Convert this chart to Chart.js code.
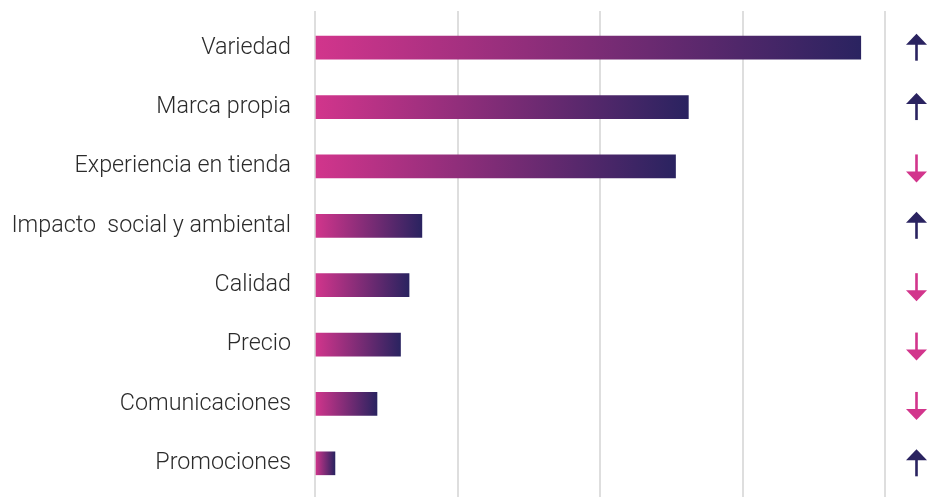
<!DOCTYPE html>
<html>
<head>
<meta charset="utf-8">
<script src="https://cdn.jsdelivr.net/npm/chart.js@4.4.1/dist/chart.umd.min.js"></script>
<style>
  html, body { margin: 0; padding: 0; background: #ffffff; }
  #wrap { width: 936px; height: 497px; position: relative; }
</style>
</head>
<body>
<div id="wrap"><canvas id="chart"></canvas></div>
<script>
// Attribute ranking: bar length per attribute and its trend direction
const categories = [
  'Variedad',
  'Marca propia',
  'Experiencia en tienda',
  'Impacto  social y ambiental',
  'Calidad',
  'Precio',
  'Comunicaciones',
  'Promociones'
];
const values = [38.3, 26.2, 25.3, 7.5, 6.6, 6.0, 4.35, 1.4];
const trends = ['up', 'up', 'down', 'up', 'down', 'down', 'down', 'up'];
const xTicks = [0, 10, 20, 30, 40];

const PINK = '#d2358c';
const NAVY = '#2a2360';
const GRID = '#dedede';

// Each bar fades from pink at zero to navy at its own end
function barGradient(ctx) {
  const chart = ctx.chart;
  const xs = chart.scales.x;
  if (!xs || !chart.chartArea) return PINK;
  const x0 = xs.getPixelForValue(0);
  const x1 = xs.getPixelForValue(values[ctx.dataIndex]);
  const g = chart.ctx.createLinearGradient(x0, 0, Math.max(x1, x0 + 1), 0);
  g.addColorStop(0, PINK);
  g.addColorStop(1, NAVY);
  return g;
}

// Up / down arrows in the right margin, one per category row
const trendArrows = {
  id: 'trendArrows',
  afterDatasetsDraw(chart) {
    const { ctx, chartArea, scales } = chart;
    const ys = scales.y;
    const cx = chartArea.right + 31.5;
    const halfHead = 10.5, headLen = 11, stem = 2.6;
    trends.forEach((t, i) => {
      const cy = ys.getPixelForValue(i);
      const color = t === 'up' ? NAVY : PINK;
      ctx.save();
      ctx.fillStyle = color;
      if (t === 'up') {
        const tip = cy - 14, base = tip + headLen, end = cy + 13;
        ctx.fillRect(cx - stem / 2, base - 1, stem, end - base + 1);
        ctx.beginPath();
        ctx.moveTo(cx, tip);
        ctx.lineTo(cx + halfHead, base);
        ctx.lineTo(cx - halfHead, base);
        ctx.closePath();
        ctx.fill();
      } else {
        const start = cy - 12, tip = cy + 16, base = tip - headLen;
        ctx.fillRect(cx - stem / 2, start, stem, base - start + 1);
        ctx.beginPath();
        ctx.moveTo(cx, tip);
        ctx.lineTo(cx + halfHead, base);
        ctx.lineTo(cx - halfHead, base);
        ctx.closePath();
        ctx.fill();
      }
      ctx.restore();
    });
  }
};

function draw() {
  new Chart(document.getElementById('chart'), {
    type: 'bar',
    data: {
      labels: categories,
      datasets: [{
        data: values,
        backgroundColor: barGradient,
        borderWidth: 0,
        barThickness: 23
      }]
    },
    options: {
      indexAxis: 'y',
      responsive: true,
      maintainAspectRatio: false,
      animation: false,
      layout: { padding: { top: 11, right: 51, bottom: 0, left: 0 } },
      plugins: {
        legend: { display: false },
        tooltip: { enabled: false }
      },
      scales: {
        x: {
          type: 'linear',
          position: 'bottom',
          min: xTicks[0],
          max: xTicks[xTicks.length - 1],
          afterBuildTicks(scale) { scale.ticks = xTicks.map(v => ({ value: v })); },
          ticks: { display: false },
          grid: { color: GRID, lineWidth: 2, drawTicks: true, tickLength: 4 },
          border: { display: false }
        },
        xTop: {
          type: 'linear',
          position: 'top',
          min: xTicks[0],
          max: xTicks[xTicks.length - 1],
          afterBuildTicks(scale) { scale.ticks = xTicks.map(v => ({ value: v })); },
          ticks: { display: false },
          grid: { color: GRID, lineWidth: 2, drawOnChartArea: false, drawTicks: true, tickLength: 7 },
          border: { display: false }
        },
        y: {
          afterFit(scale) {
            scale.width = 315;
            scale.paddingTop = 0;
            scale.paddingBottom = 0;
          },
          grid: { display: false },
          border: { display: false },
          ticks: {
            padding: 16,
            color: '#2b2b2b',
            font: { family: 'Roboto', weight: '300', size: 23.3 }
          }
        }
      }
    },
    plugins: [trendArrows]
  });
}

if (document.fonts && document.fonts.load) {
  Promise.all([
    document.fonts.load('300 23px Roboto'),
    document.fonts.load('400 23px Roboto')
  ]).then(draw, draw);
} else {
  draw();
}
</script>
</body>
</html>
